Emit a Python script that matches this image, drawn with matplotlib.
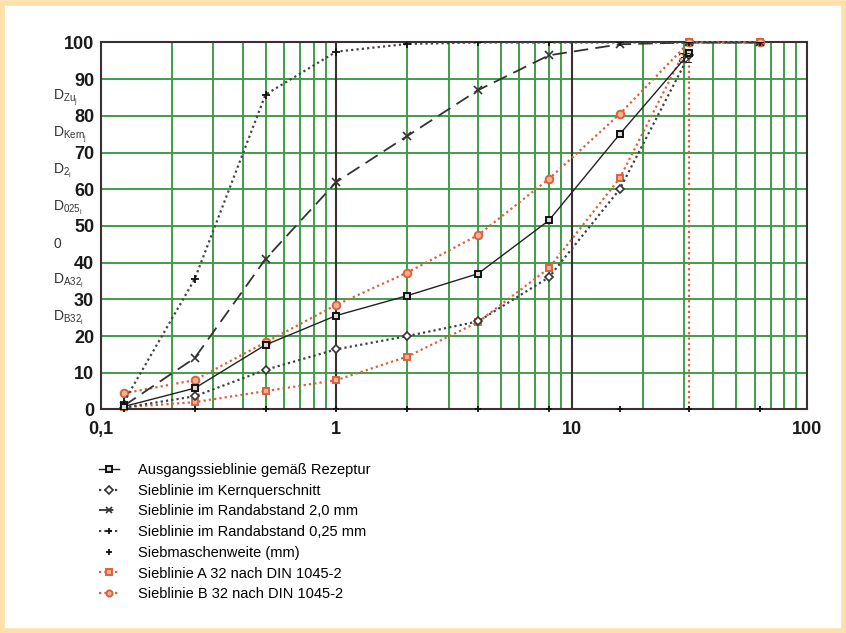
import matplotlib.pyplot as plt
from matplotlib.patches import Rectangle

plt.rcParams['font.family'] = ['Liberation Sans Narrow', 'Liberation Sans', 'DejaVu Sans']
plt.rcParams['mathtext.fontset'] = 'custom'
plt.rcParams['mathtext.rm'] = 'Liberation Sans'
plt.rcParams['mathtext.it'] = 'Liberation Sans'

# Siebweiten in mm
sieb = [0.125, 0.25, 0.5, 1, 2, 4, 8, 16, 31.5]
sieb_63 = [0.125, 0.25, 0.5, 1, 2, 4, 8, 16, 31.5, 63]

# Durchgang in M.-%
ausgang = [0.8, 5.8, 17.6, 25.6, 31, 37, 51.5, 75, 97]
kern = [0.5, 3.6, 10.8, 16.4, 20, 24, 36, 60, 96.5]
rand_20 = [1, 14, 41, 62, 74.5, 87, 96.5, 99.5, 100, 100]
rand_025 = [2, 35.5, 85.8, 97.5, 99.6, 100, 100, 100, 100, 100]
a32 = [0.6, 2, 5, 8, 14.4, 23.8, 38.5, 63, 100, 100]
b32 = [4.4, 8, 18.3, 28.5, 37.3, 47.5, 62.8, 80.5, 100, 100]
null_linie = [0] * len(sieb_63)

grenze_x = [31.5, 31.5]
grenze_y = [0, 100]

links_labels = [r'$\mathregular{D_{Zu_j}}$', r'$\mathregular{D_{Kern_j}}$',
                r'$\mathregular{D_{2_i}}$', r'$\mathregular{D_{025_i}}$', '0',
                r'$\mathregular{D_{A32_i}}$', r'$\mathregular{D_{B32_i}}$']
links_y = [85, 75, 65, 55, 45, 35, 25]

gruen = '#3f9e48'
rot = '#d9623c'

fig = plt.figure(figsize=(8.46, 6.33), dpi=100)
ax = fig.add_axes([0.1194, 0.3531, 0.8345, 0.5798])

# Rahmen ums Bild
fig.patches.append(Rectangle((0.0025, 0.003), 0.9955, 0.992, transform=fig.transFigure,
                             fill=False, edgecolor='#ffe0a6', linewidth=4))

ax.set_xscale('log')
ax.set_xlim(0.1, 100)
ax.set_ylim(0, 100)

# Gitter
for dec in [0.1, 1, 10]:
    for k in range(2, 10):
        ax.axvline(dec * k, color=gruen, lw=1.4, zorder=1)
for yy in range(10, 100, 10):
    ax.axhline(yy, color=gruen, lw=1.4, zorder=1)
for xx in [1, 10]:
    ax.axvline(xx, color='#3a3030', lw=1.5, zorder=1.5)

ax.plot(sieb, ausgang, color='#222222', lw=1, marker='s', ms=5, mfc='#d8d8d8',
        mec='#111111', mew=1.4, label='Ausgangssieblinie gemäß Rezeptur', zorder=5)
ax.plot(sieb, kern, color='#404048', lw=1.6, ls=(0, (1, 1.4)), marker='D', ms=4.5,
        mfc='white', mec='#333333', mew=1.2, label='Sieblinie im Kernquerschnitt', zorder=4)
ax.plot(sieb_63, rand_20, color='#333333', lw=1.3, ls=(0, (8, 4)), marker='x', ms=6,
        mec='#333333', mew=1.2, label='Sieblinie im Randabstand 2,0 mm', zorder=4)
ax.plot(sieb_63, rand_025, color='#444444', lw=1.6, ls=(0, (1, 1.4)), marker='+', ms=6,
        mec='#111111', mew=1.3, label='Sieblinie im Randabstand 0,25 mm', zorder=4)
ax.plot(sieb_63, null_linie, ls='none', marker='+', ms=5, mec='#111111', mew=1.3,
        label='Siebmaschenweite (mm)', zorder=4, clip_on=False)
ax.plot(sieb_63, a32, color=rot, lw=1.6, ls=(0, (1, 1.4)), marker='s', ms=5,
        mfc='#f4b090', mec=rot, mew=1.4, label='Sieblinie A 32 nach DIN 1045-2', zorder=3,
        clip_on=False)
ax.plot(sieb_63, b32, color=rot, lw=1.6, ls=(0, (1, 1.4)), marker='o', ms=5.5,
        mfc='#f4b090', mec=rot, mew=1.4, label='Sieblinie B 32 nach DIN 1045-2', zorder=3,
        clip_on=False)
ax.plot(grenze_x, grenze_y, color=rot, lw=1.6, ls=(0, (1, 1.4)), zorder=3)

ax.text(30.5, 95.5, '32', fontsize=10, ha='center', va='center', color='#222222', zorder=6)

for s in ax.spines.values():
    s.set_color('#3a3030')
    s.set_linewidth(1.5)

ax.set_xticks([0.1, 1, 10, 100])
ax.set_xticklabels(['0,1', '1', '10', '100'])
ax.set_yticks(range(0, 101, 10))
ax.minorticks_off()
ax.tick_params(axis='y', length=0, pad=5)
ax.tick_params(axis='x', length=0, pad=8)
for lab in ax.get_xticklabels() + ax.get_yticklabels():
    lab.set_fontfamily('Liberation Sans')
    lab.set_fontweight('bold')
    lab.set_fontsize(13)
    lab.set_color('#1a1a1a')

for txt, yy in zip(links_labels, links_y):
    ax.text(-0.068, yy, txt, transform=ax.get_yaxis_transform(), fontsize=10,
            color='#333333', ha='left', va='center')

fig.legend(loc='upper left', bbox_to_anchor=(0.108, 0.28), frameon=False,
           fontsize=10.5, handlelength=1.4, handletextpad=1.3, labelspacing=0.46,
           borderpad=0, markerscale=0.8)

fig.savefig('out.png', dpi=100)
